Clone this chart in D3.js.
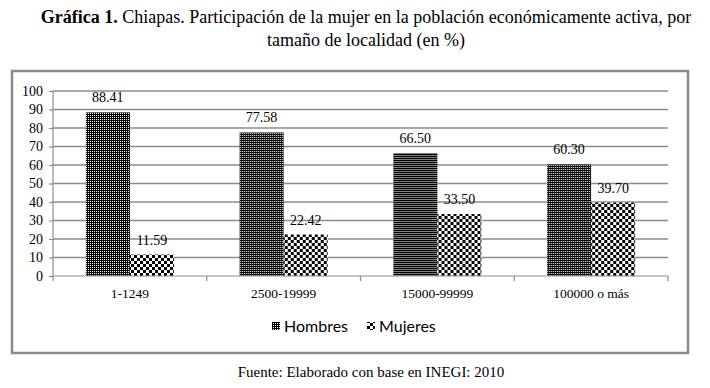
<!DOCTYPE html>
<html>
<head>
<meta charset="utf-8">
<script src="https://cdn.jsdelivr.net/npm/d3@7"></script>
<style>
body { margin: 0; background: #fff; }
text { fill: #000; }
.serif, .serif tspan, .axis text, .lbl { font-family: "Liberation Serif", "DejaVu Serif", serif !important; }
.grid line { stroke: #8c8c8c; stroke-width: 1.5; }
.axis path, .axis line { stroke: #8c8c8c; stroke-width: 1.2; }
</style>
</head>
<body>
<script>
var w = 710;
var h = 388;

var categories = ["1-1249", "2500-19999", "15000-99999", "100000 o más"];
var hombres = [88.41, 77.58, 66.50, 60.30];
var mujeres = [11.59, 22.42, 33.50, 39.70];
var seriesNames = ["Hombres", "Mujeres"];
var yTicks = [0, 10, 20, 30, 40, 50, 60, 70, 80, 90, 100];

var svg = d3.select("body")
    .append("svg")
    .attr("width", w)
    .attr("height", h);

// patterns for the two series
var defs = svg.append("defs");
var pH = defs.append("pattern")
    .attr("id", "patH")
    .attr("patternUnits", "userSpaceOnUse")
    .attr("width", 2).attr("height", 2);
pH.append("rect").attr("width", 2).attr("height", 2).attr("fill", "#000");
pH.append("rect").attr("x", 1).attr("y", 1).attr("width", 1).attr("height", 1).attr("fill", "#fff");

var pM = defs.append("pattern")
    .attr("id", "patM")
    .attr("patternUnits", "userSpaceOnUse")
    .attr("width", 6).attr("height", 6);
pM.append("rect").attr("width", 6).attr("height", 6).attr("fill", "#fff");
pM.append("rect").attr("width", 3).attr("height", 3).attr("fill", "#000");
pM.append("rect").attr("x", 3).attr("y", 3).attr("width", 3).attr("height", 3).attr("fill", "#000");

var fills = { Hombres: "url(#patH)", Mujeres: "url(#patM)" };

// title
var title = svg.append("text")
    .attr("class", "serif")
    .attr("x", 366)
    .attr("y", 23)
    .attr("text-anchor", "middle")
    .style("font-size", "18px");
title.append("tspan").style("font-weight", "bold").text("Gráfica 1.");
title.append("tspan").text(" Chiapas. Participación de la mujer en la población económicamente activa, por");

svg.append("text")
    .attr("class", "serif")
    .attr("x", 366)
    .attr("y", 46)
    .attr("text-anchor", "middle")
    .style("font-size", "18px")
    .text("tamaño de localidad (en %)");

// chart frame
svg.append("rect")
    .attr("x", 12)
    .attr("y", 71)
    .attr("width", 676)
    .attr("height", 282)
    .attr("fill", "none")
    .attr("stroke", "#8a8a8a")
    .attr("stroke-width", 2.5);

var xScale = d3.scaleBand()
    .domain(categories)
    .range([53, 668]);

var xInner = d3.scaleBand()
    .domain(seriesNames)
    .range([0, xScale.bandwidth()])
    .paddingOuter(0.747);

var yScale = d3.scaleLinear()
    .domain([0, 100])
    .range([276, 91]);

// gridlines
svg.append("g")
    .attr("class", "grid")
    .selectAll("line")
    .data(yTicks.slice(1))
    .enter()
    .append("line")
    .attr("x1", 53)
    .attr("x2", 668)
    .attr("y1", function(d) { return yScale(d); })
    .attr("y2", function(d) { return yScale(d); });

var yAxis = d3.axisLeft(yScale)
    .tickValues(yTicks)
    .tickSize(4)
    .tickPadding(6);

svg.append("g")
    .attr("class", "axis")
    .attr("transform", "translate(53,0)")
    .call(yAxis)
    .attr("font-family", null)
    .call(function(g) {
        g.select(".domain").attr("d", "M0," + yScale(100) + "V" + yScale(0));
        g.selectAll("text").style("font-size", "14px");
    });

// bars
var data = categories.map(function(c, i) {
    return { cat: c, values: [
        { name: "Hombres", v: hombres[i] },
        { name: "Mujeres", v: mujeres[i] }
    ] };
});

var groups = svg.selectAll(".cat")
    .data(data)
    .enter()
    .append("g")
    .attr("class", "cat")
    .attr("transform", function(d) { return "translate(" + xScale(d.cat) + ",0)"; });

groups.selectAll("rect")
    .data(function(d) { return d.values; })
    .enter()
    .append("rect")
    .attr("x", function(d) { return xInner(d.name); })
    .attr("y", function(d) { return yScale(d.v); })
    .attr("width", xInner.bandwidth())
    .attr("height", function(d) { return yScale(0) - yScale(d.v); })
    .attr("fill", function(d) { return fills[d.name]; });

groups.selectAll(".lbl")
    .data(function(d) { return d.values; })
    .enter()
    .append("text")
    .attr("class", "lbl")
    .attr("x", function(d) { return xInner(d.name) + xInner.bandwidth() / 2; })
    .attr("y", function(d) { return yScale(d.v) - 10; })
    .attr("text-anchor", "middle")
    .style("font-size", "14px")
    .text(function(d) { return d.v.toFixed(2); });

// x axis
var xAxis = d3.axisBottom(xScale)
    .tickSize(0)
    .tickPadding(12);

svg.append("g")
    .attr("class", "axis")
    .attr("transform", "translate(0,276)")
    .call(xAxis)
    .attr("font-family", null)
    .call(function(g) {
        g.select(".domain").attr("d", "M53,0H668");
        g.selectAll("text").style("font-size", "13.5px");
    });

// category boundary ticks
svg.append("g")
    .attr("class", "axis")
    .selectAll("line")
    .data(categories.concat(["end"]))
    .enter()
    .append("line")
    .attr("x1", function(d, i) { return 53 + i * xScale.step(); })
    .attr("x2", function(d, i) { return 53 + i * xScale.step(); })
    .attr("y1", 276)
    .attr("y2", 281);

// legend
var legend = svg.append("g")
    .attr("transform", "translate(272,326)");

var legendX = d3.scaleOrdinal()
    .domain(seriesNames)
    .range([0, 95]);

var item = legend.selectAll("g")
    .data(seriesNames)
    .enter()
    .append("g")
    .attr("transform", function(d) { return "translate(" + legendX(d) + ",0)"; });

item.append("rect")
    .attr("x", 0)
    .attr("y", -4)
    .attr("width", 8)
    .attr("height", 8)
    .attr("fill", function(d) { return fills[d]; });

item.append("text")
    .attr("x", 12)
    .attr("y", 6)
    .style("font-family", "Lato, 'Open Sans', sans-serif")
    .style("font-size", "16px")
    .text(function(d) { return d; });

// source
svg.append("text")
    .attr("class", "serif")
    .attr("x", 371)
    .attr("y", 377)
    .attr("text-anchor", "middle")
    .style("font-size", "15px")
    .text("Fuente: Elaborado con base en INEGI: 2010");
</script>
</body>
</html>
